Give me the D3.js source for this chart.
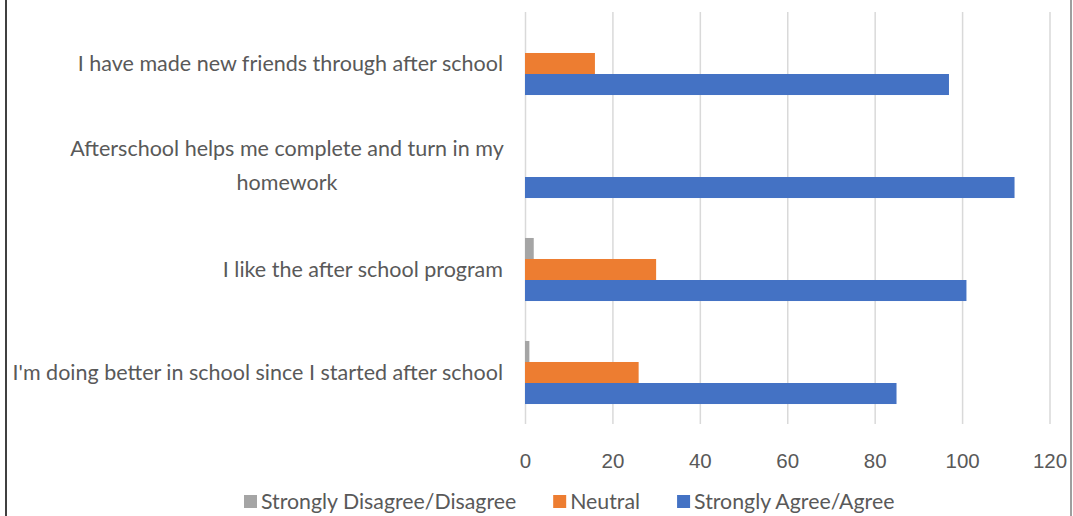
<!DOCTYPE html>
<html>
<head>
<meta charset="utf-8">
<script src="https://cdnjs.cloudflare.com/ajax/libs/d3/7.8.5/d3.min.js"></script>
<style>
  body { margin: 0; background: #fff; }
  svg { display: block; font-family: Lato, "Open Sans", sans-serif; }
</style>
</head>
<body>
<svg></svg>
<script>
// survey answers, top category first
let categories = [
  "I have made new friends through after school",
  "Afterschool helps me complete and turn in my homework",
  "I like the after school program",
  "I'm doing better in school since I started after school"
]
let seriesNames = ["Strongly Disagree/Disagree", "Neutral", "Strongly Agree/Agree"]
let disagreeValues = [0, 0, 2, 1]
let neutralValues = [16, 0, 30, 26]
let agreeValues = [97, 112, 101, 85]
let xTicks = [0, 20, 40, 60, 80, 100, 120]
let colors = ["#a5a5a5", "#ed7d31", "#4472c4"]

let width = 1073
let height = 516
let textColor = "#595959"

let svg = d3.select("svg")
  .attr("width", width)
  .attr("height", height)

let rows = categories.map((c, i) => ({
  name: c,
  values: [disagreeValues[i], neutralValues[i], agreeValues[i]]
}))

let xScale = d3.scaleLinear()
  .domain([0, 120])
  .range([525, 1049.5])

let yScale = d3.scaleBand()
  .domain(categories)
  .range([12, 424])
  .paddingInner(0.388)
  .paddingOuter(0.194)

let subScale = d3.scaleBand()
  .domain(d3.range(seriesNames.length))
  .range([0, yScale.bandwidth()])

// frame edges of the original screenshot
svg.append("line")
  .attr("x1", 6).attr("x2", 6).attr("y1", 0).attr("y2", height)
  .attr("stroke", "#404040").attr("stroke-width", 2)
svg.append("line")
  .attr("x1", 1071).attr("x2", 1071).attr("y1", 0).attr("y2", height)
  .attr("stroke", "#7f7f7f").attr("stroke-width", 1.5)

// gridlines + tick labels
let xAxis = d3.axisBottom(xScale)
  .tickValues(xTicks)
  .tickSize(-(424 - 12))
  .tickPadding(29)
  .tickFormat(d3.format("d"))

let gx = svg.append("g")
  .attr("transform", "translate(0, 424)")
  .call(xAxis)
gx.select(".domain").remove()
gx.selectAll(".tick line")
  .attr("stroke", "#d9d9d9")
  .attr("stroke-width", 1.5)
gx.selectAll(".tick text")
  .attr("fill", textColor)
  .style("font-size", "20.5px")

// bars
let groups = svg.selectAll(".row")
  .data(rows)
  .enter()
  .append("g")
  .attr("class", "row")
  .attr("transform", d => "translate(0, " + yScale(d.name) + ")")

groups.selectAll("rect")
  .data(d => d.values)
  .enter()
  .append("rect")
  .attr("x", xScale(0))
  .attr("y", (v, i) => subScale(i))
  .attr("width", v => xScale(v) - xScale(0))
  .attr("height", subScale.bandwidth())
  .attr("fill", (v, i) => colors[i])

// category labels, long one wraps to two centred lines
let wrapAt = "Afterschool helps me complete and turn in my"
categories.forEach(c => {
  let mid = yScale(c) + yScale.bandwidth() / 2
  if (c.startsWith(wrapAt)) {
    let t = svg.append("text")
      .attr("fill", textColor)
      .style("font-size", "21.5px")
      .attr("text-anchor", "middle")
    t.append("tspan").attr("x", 287).attr("y", mid - 18).attr("dy", "0.35em").text(wrapAt)
    t.append("tspan").attr("x", 287).attr("y", mid + 16).attr("dy", "0.35em").text(c.slice(wrapAt.length + 1))
  } else {
    svg.append("text")
      .attr("x", 503)
      .attr("y", mid)
      .attr("dy", "0.35em")
      .attr("text-anchor", "end")
      .attr("fill", textColor)
      .style("font-size", "21.5px")
      .text(c)
  }
})

// legend
let legend = svg.append("g")
let lx = 244
seriesNames.forEach((s, i) => {
  legend.append("rect")
    .attr("x", lx).attr("y", 495)
    .attr("width", 13).attr("height", 13)
    .attr("fill", colors[i])
  let t = legend.append("text")
    .attr("x", lx + 17)
    .attr("y", 502)
    .attr("dy", "0.35em")
    .attr("fill", textColor)
    .style("font-size", "21.3px")
    .text(s)
  lx += 17 + t.node().getComputedTextLength() + 37
})
</script>
</body>
</html>
